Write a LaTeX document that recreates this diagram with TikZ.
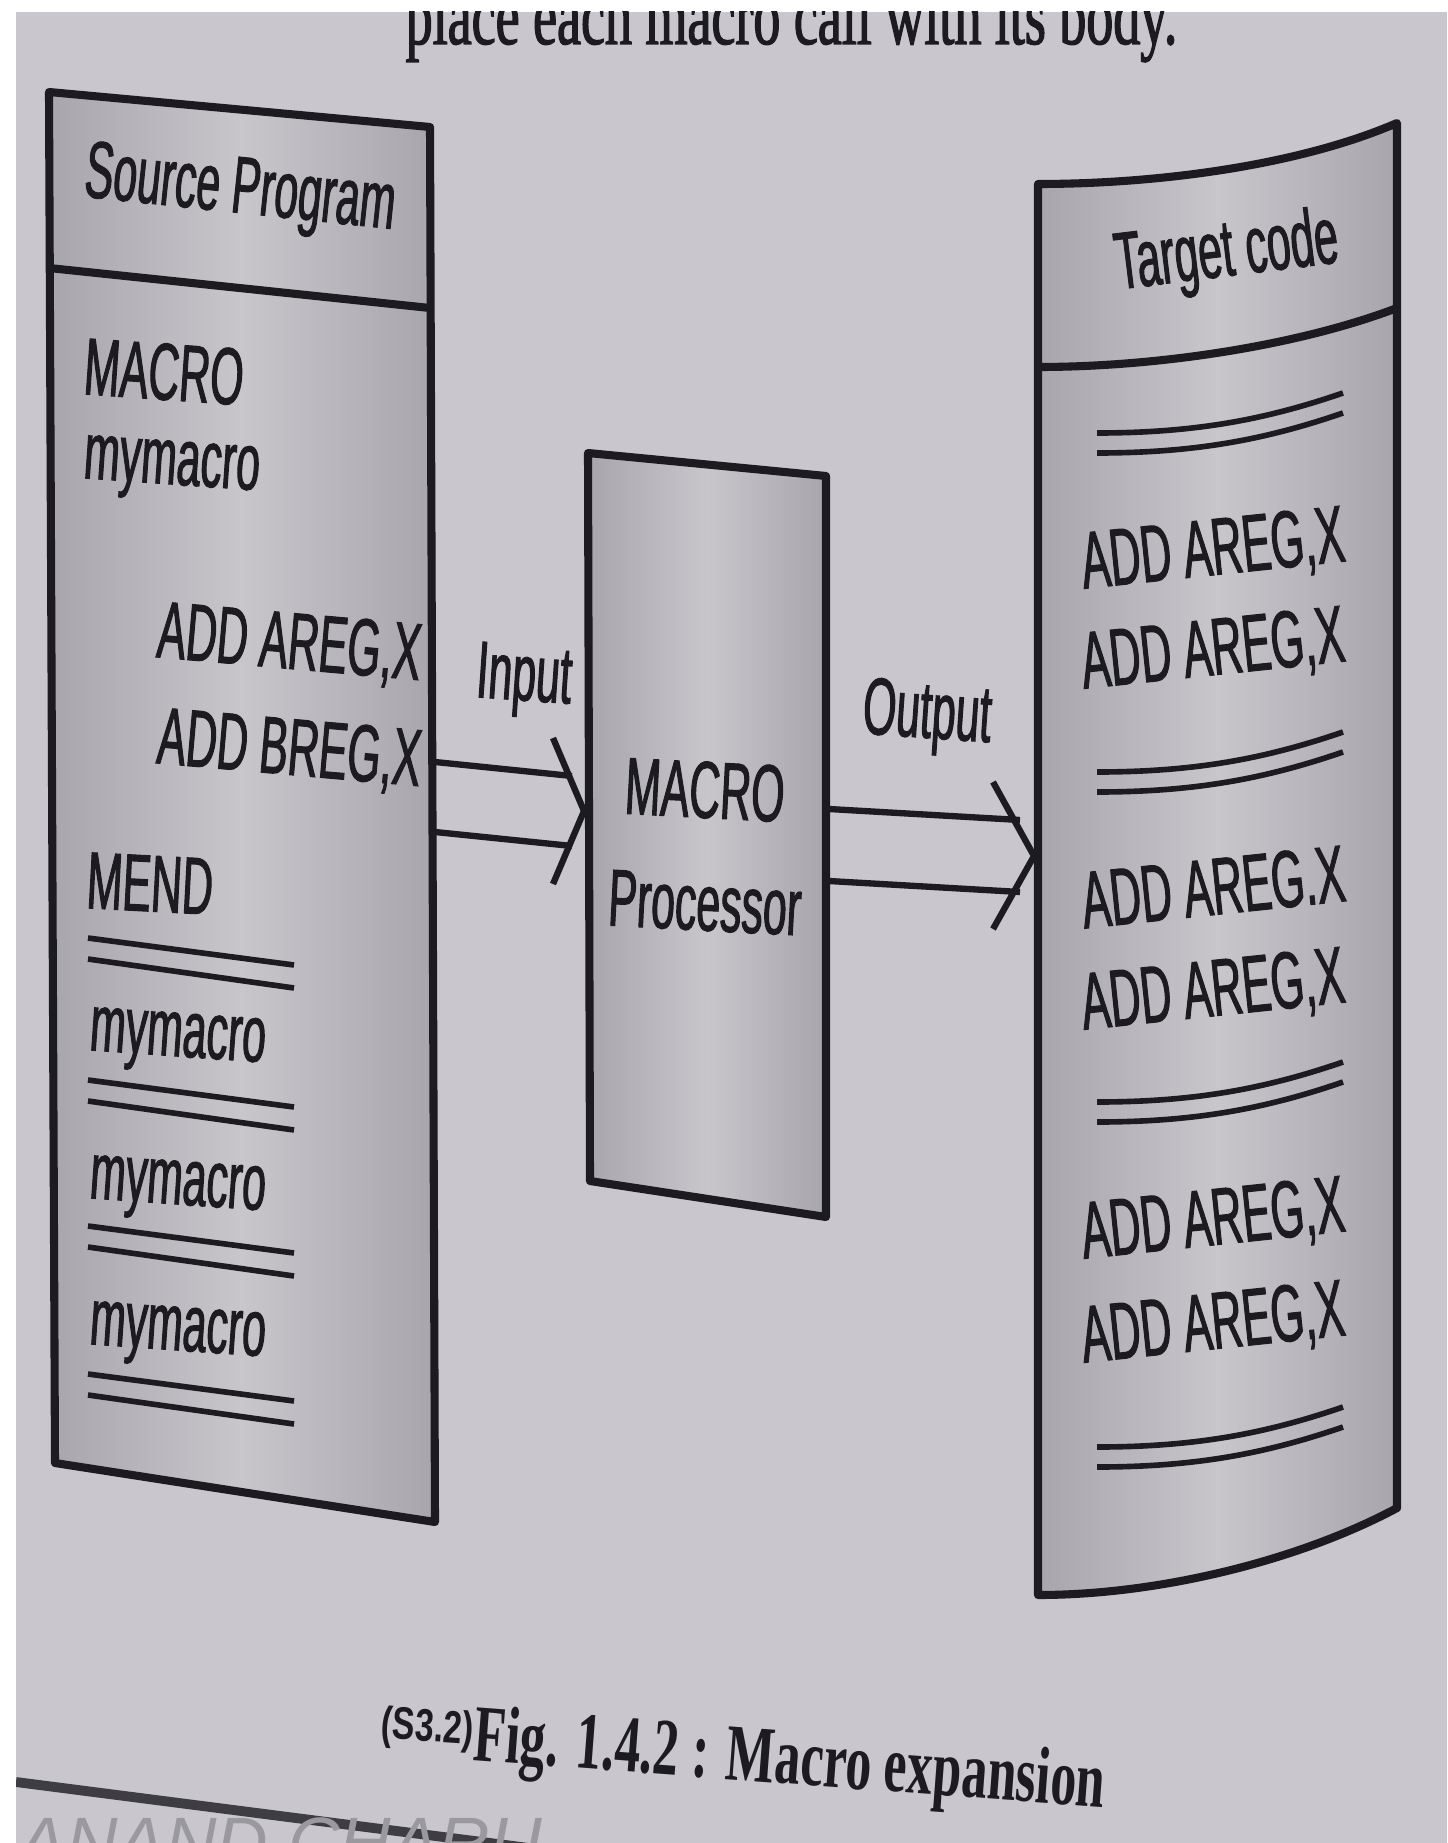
\documentclass[tikz,border=0pt]{standalone}
\usepackage{fontspec}
\setmainfont{Liberation Serif}
\newfontfamily\figSans[FakeStretch=0.53,FakeBold=1.2]{Liberation Sans}
\newfontfamily\tagSans[FakeStretch=0.74]{Liberation Sans}
\newfontfamily\capSerif[FakeStretch=0.64]{Liberation Serif}
\newfontfamily\bodySerif[FakeStretch=0.64,FakeBold=1.5]{Liberation Serif}
\newfontfamily\markSans{Liberation Sans}
\usetikzlibrary{calc}

\begin{document}
\begin{tikzpicture}[x=0.1mm,y=-0.1mm]
\definecolor{pageGrey}{HTML}{C9C6CD}
\definecolor{boxEdge}{HTML}{A8A6AC}
\definecolor{boxMid}{HTML}{C8C6CB}
\definecolor{inkDark}{HTML}{1C1B20}
\definecolor{markGrey}{HTML}{9A9A9E}
\tikzset{
  boxLine/.style={draw=inkDark,line width=2.3pt,line join=round},
  boxShade/.style={left color=boxEdge,right color=boxEdge,middle color=boxMid},
  codeText/.style={font=\figSans\fontsize{23pt}{26pt}\selectfont,text=inkDark,inner sep=0pt},
  ruleLine/.style={draw=inkDark,line width=1.6pt},
  shaftLine/.style={draw=inkDark,line width=1.8pt,line join=miter}
}
\useasboundingbox (0,0) rectangle (1447,1843);
\fill[white] (0,0) rectangle (1447,1843);
\clip (16,12) rectangle (1447,1843);
\fill[pageGrey] (16,12) rectangle (1447,1843);
\node[anchor=base west,font=\bodySerif\fontsize{24pt}{28pt}\selectfont,text=inkDark,inner sep=0pt] (prevLine) at (405,44) {place each macro call with its body.};
\draw[boxLine,boxShade] (49,92) -- (430,127) -- (435,1522) -- (55,1463) -- cycle;
\draw[boxLine] (49,268) -- (430,308);
\node[codeText,rotate=-6] (srcTitle) at (240,193) {Source Program};
\node[codeText,anchor=base west,rotate=-4] (srcMacro) at (82,394) {MACRO};
\node[codeText,anchor=base west,rotate=-4] (srcName) at (82,478) {mymacro};
\node[codeText,anchor=base west,rotate=-5] (srcAddA) at (155,657) {ADD AREG,X};
\node[codeText,anchor=base west,rotate=-5] (srcAddB) at (155,763) {ADD BREG,X};
\node[codeText,anchor=base west,rotate=-3] (srcMend) at (85,908) {MEND};
\foreach \y/\nm in {1050/callA,1198/callB,1344/callC}
  \node[codeText,anchor=base west,rotate=-4] (\nm) at (88,\y) {mymacro};
\foreach \y in {938,1080,1226,1374} {
  \draw[ruleLine] (88,\y) -- (294,\y+27);
  \draw[ruleLine] (88,\y+21) -- (294,\y+50);
}
\draw[boxLine,boxShade] (588,453) -- (826,476) -- (826,1217) -- (590,1181) -- cycle;
\node[codeText,rotate=-3] (procTop) at (705,790) {MACRO};
\node[codeText,rotate=-3] (procBottom) at (705,903) {Processor};
\draw[boxLine,boxShade] (1038,184) .. controls (1160,184) and (1300,165) .. (1397,123) -- (1397,1508) .. controls (1300,1560) and (1160,1595) .. (1038,1595) -- cycle;
\draw[boxLine] (1038,367) .. controls (1160,367) and (1300,345) .. (1397,308);
\node[codeText,rotate=7] (tgtTitle) at (1227,255) {Target code};
\foreach \y/\txt [count=\i] in {552/{ADD AREG,X},652/{ADD AREG,X},887/{ADD AREG.X},993/{ADD AREG,X},1222/{ADD AREG,X},1326/{ADD AREG,X}}
  \node[codeText,rotate=6] (tgtLine\i) at (1213,\y) {\txt};
\foreach \y in {433,772,1102,1447} {
  \draw[ruleLine] (1097,\y) .. controls (1200,\y) and (1270,\y-15) .. (1343,\y-40);
  \draw[ruleLine] (1097,\y+20) .. controls (1200,\y+20) and (1270,\y+5) .. (1343,\y-20);
}
\coordinate (inTail) at (435,797);
\coordinate (inTip) at (584,811);
\draw[shaftLine] ($(inTail)+(0,-35)$) -- ($(inTip)+(-12,-35)$);
\draw[shaftLine] ($(inTail)+(0,35)$) -- ($(inTip)+(-12,35)$);
\draw[shaftLine] ($(inTip)+(-31,-73)$) -- (inTip) -- ($(inTip)+(-31,73)$);
\node[codeText,rotate=-4] (inLabel) at (524,681) {Input};
\coordinate (outTail) at (829,845);
\coordinate (outTip) at (1034,856);
\draw[shaftLine] ($(outTail)+(0,-36)$) -- ($(outTip)+(-14,-36)$);
\draw[shaftLine] ($(outTail)+(0,36)$) -- ($(outTip)+(-14,36)$);
\draw[shaftLine] ($(outTip)+(-41,-74)$) -- (outTip) -- ($(outTip)+(-41,73)$);
\node[codeText,rotate=-4] (outLabel) at (927,718) {Output};
\node[anchor=base west,font=\tagSans\bfseries\fontsize{13pt}{15pt}\selectfont,text=inkDark,inner sep=0pt,rotate=-4] (capTag) at (380,1738) {(S3.2)};
\node[anchor=base west,font=\capSerif\bfseries\fontsize{23pt}{27pt}\selectfont,text=inkDark,inner sep=0pt,rotate=-4.3] (capText) at (472,1760) {Fig. 1.4.2 : Macro expansion};
\draw[inkDark!85,line width=2.8pt] (16,1782) -- (560,1852);
\node[anchor=base west,font=\markSans\itshape\fontsize{20.3pt}{24pt}\selectfont,text=markGrey,inner sep=0pt] (wmark) at (18,1867) {ANAND CHARU};
\end{tikzpicture}
\end{document}
